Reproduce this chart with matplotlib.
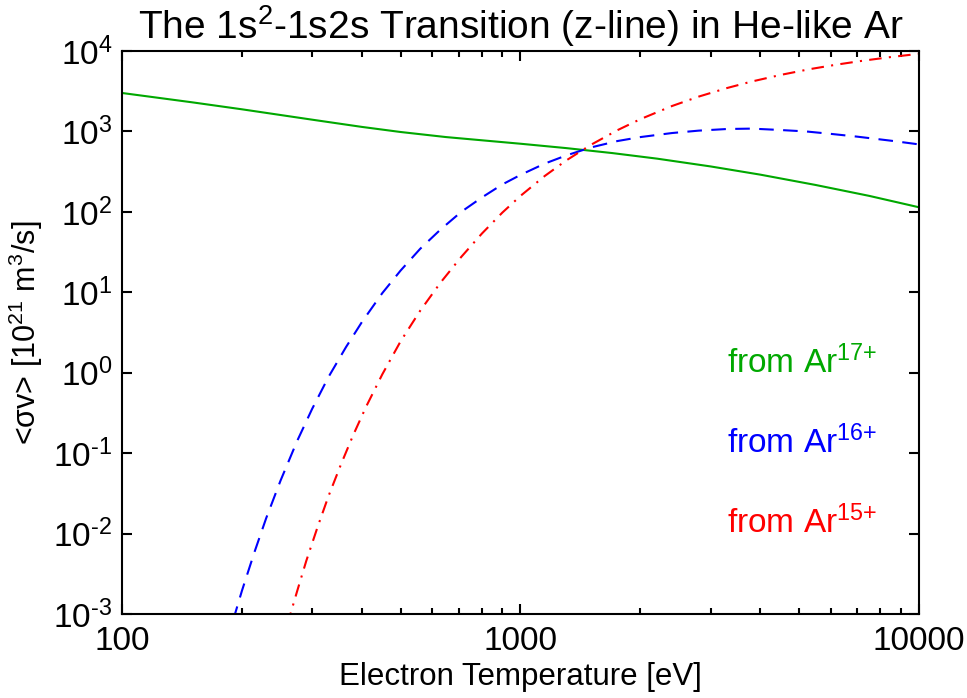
import matplotlib
matplotlib.use("Agg")
import math
import matplotlib.pyplot as plt
from matplotlib.ticker import LogLocator, FuncFormatter, NullLocator, NullFormatter

plt.rcParams['font.family'] = ['Liberation Sans', 'DejaVu Sans']
plt.rcParams['mathtext.fontset'] = 'custom'
plt.rcParams['mathtext.rm'] = 'Liberation Sans'
plt.rcParams['mathtext.it'] = 'Liberation Sans'
plt.rcParams['mathtext.default'] = 'regular'
plt.rcParams['axes.unicode_minus'] = False

# ---- data ----
temp_17 = [100, 150, 200, 300, 400, 500, 650, 800, 1000, 1300, 1700, 2200,
           3000, 4000, 5500, 7500, 10000]
rate_17 = [3006, 2301, 1884, 1400, 1138, 984, 851, 776, 703, 621, 538, 459,
           367, 290, 216, 158, 114]

temp_16 = [190, 200, 215, 230, 250, 275, 300, 330, 365, 400, 450, 500, 560,
           630, 710, 800, 900, 1000, 1150, 1300, 1500, 1750, 2000, 2400, 2800,
           3300, 3800, 4400, 5200, 6000, 7000, 8500, 10000]
rate_16 = [0.000832, 0.00195, 0.00589, 0.0155, 0.0457, 0.141, 0.355, 0.891,
           2.09, 4.27, 9.77, 18.6, 34.7, 60.3, 100, 151, 219, 288, 398, 501,
           631, 759, 851, 955, 1023, 1072, 1084, 1047, 1000, 933, 861, 767, 690]

temp_15 = [260, 275, 290, 310, 330, 355, 380, 410, 450, 500, 560, 630, 710,
           800, 900, 1000, 1150, 1300, 1500, 1750, 2000, 2400, 2800, 3300,
           3800, 4500, 5300, 6200, 7200, 8500, 10000]
rate_15 = [0.000741, 0.00191, 0.00457, 0.0123, 0.0295, 0.0741, 0.166, 0.380,
           0.955, 2.45, 5.89, 13.2, 27.5, 53.7, 97.7, 158, 279, 433, 679,
           1035, 1422, 2070, 2710, 3467, 4169, 5047, 5929, 6761, 7551, 8414,
           9226]

labels = ['from Ar$^{17{+}}$', 'from Ar$^{16{+}}$', 'from Ar$^{15{+}}$']
label_y = [1.0, 0.1, 0.01]
label_x = 3300
colors = ['#00A800', '#0000FF', '#FF0000']

title = 'The 1s$^2$-1s2s Transition (z-line) in He-like Ar'
xlabel = 'Electron Temperature [eV]'
ylabel = '<σv> [10$^{21}$ m$^3$/s]'


def ylog_fmt(v, p):
    e = int(round(math.log10(v)))
    s = str(e).replace('-', '\u2010')
    return '10$^{%s}$' % s


fig = plt.figure(figsize=(9.67, 6.98), dpi=100)
ax = fig.add_axes([122/967, 1-614/698, (919-122)/967, (614-51)/698])

ax.plot(temp_17, rate_17, color=colors[0], lw=1.5, solid_capstyle='butt')
ax.plot(temp_16, rate_16, color=colors[1], lw=1.5, dashes=(7, 4.5))
ax.plot(temp_15, rate_15, color=colors[2], lw=1.5, dashes=(6, 3.5, 1, 3.5))

ax.set_xscale('log')
ax.set_yscale('log')
ax.set_xlim(100, 10000)
ax.set_ylim(1e-3, 1e4)

ax.xaxis.set_major_locator(LogLocator(base=10, numticks=10))
ax.xaxis.set_minor_locator(LogLocator(base=10, subs=range(2, 10), numticks=20))
ax.xaxis.set_major_formatter(FuncFormatter(lambda v, p: '%d' % round(v)))
ax.xaxis.set_minor_formatter(NullFormatter())
ax.yaxis.set_major_locator(LogLocator(base=10, numticks=20))
ax.yaxis.set_major_formatter(FuncFormatter(ylog_fmt))
ax.yaxis.set_minor_locator(NullLocator())

ax.tick_params(which='both', direction='in', top=True, right=True, width=1.5,
               labelsize=24, colors='black')
ax.tick_params(which='major', length=7.5)
ax.tick_params(which='minor', length=4)
ax.tick_params(axis='x', pad=9)
ax.tick_params(axis='y', pad=7)
for s in ax.spines.values():
    s.set_linewidth(1.5)

for lab, yv, c in zip(labels, label_y, colors):
    ax.text(label_x, yv, lab, color=c, fontsize=24, ha='left', va='baseline')

ax.set_title(title, fontsize=28, pad=9)
ax.set_xlabel(xlabel, fontsize=22.5, labelpad=3)
ax.set_ylabel(ylabel, fontsize=22, labelpad=6)

fig.savefig('out.png', dpi=100)
